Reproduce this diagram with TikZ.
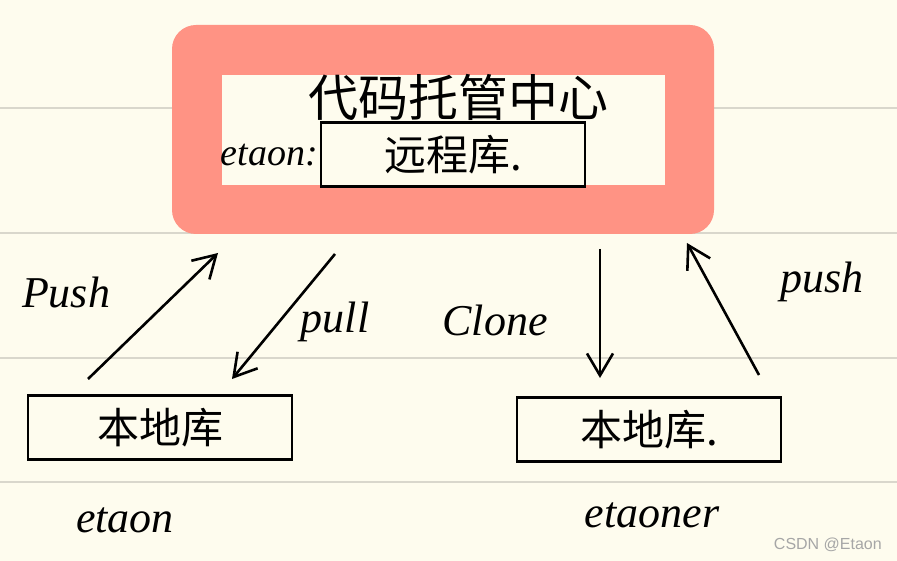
\documentclass[tikz,border=0pt]{standalone}
\usepackage{fontspec}
\setmainfont{Liberation Serif}
\newfontfamily\cjk{Noto Sans CJK SC}
\newfontfamily\wmfont{Liberation Sans}
\usetikzlibrary{arrows.meta}
\definecolor{paper}{HTML}{FEFCEE}
\definecolor{ruled}{HTML}{D9D7CC}
\definecolor{salmon}{HTML}{FF9384}
\tikzset{
  ink/.style={line width=2.6pt, draw=black},
  repobox/.style={draw=black, line width=2.8pt, minimum width=264pt, minimum height=64pt, inner sep=0pt, font=\cjk\fontsize{42}{42}\selectfont},
  hand/.style={font=\itshape\fontsize{44}{44}\selectfont, inner sep=0pt},
  handsm/.style={font=\itshape\fontsize{38}{38}\selectfont, inner sep=0pt},
  flow/.style={ink, -{Straight Barb[length=22pt,width=26pt,line width=2.6pt]}},
}
\begin{document}
\begin{tikzpicture}[x=1pt,y=-1pt]
\useasboundingbox (0,0) rectangle (897,561);
\fill[paper] (0,0) rectangle (897,561);
\foreach \yy in {108,233,358,482} \draw[ruled, line width=1.5pt] (0,\yy) -- (897,\yy);
% highlight
\fill[salmon, rounded corners=24pt] (172,25) rectangle (714,234);
\fill[paper] (222,75) rectangle (665,185);
\node[font=\cjk\fontsize{50}{50}\selectfont, inner sep=0pt] (center) at (458,97) {代码托管中心};
\node[repobox] (remote) at (453,154.5) {远程库.};
\node[handsm, anchor=east] (owner) at (318,155) {etaon:};
% local repos
\node[repobox] (localA) at (160,427.5) {本地库};
\node[repobox] (localB) at (649,429.5) {本地库.};
\node[hand] (nameA) at (125,520) {etaon};
\node[hand] (nameB) at (652,515) {etaoner};
% arrow ends
\coordinate (pushAs) at (88,379);
\coordinate (pushAe) at (218,253);
\coordinate (pullS) at (335,254);
\coordinate (pullE) at (232,379);
\coordinate (cloneS) at (600,249);
\coordinate (cloneE) at (600,378);
\coordinate (pushBs) at (759,375);
\coordinate (pushBe) at (687,243);
\draw[flow] (pushAs) -- (pushAe);
\draw[flow] (pullS) -- (pullE);
\draw[flow] (cloneS) -- (cloneE);
\draw[flow] (pushBs) -- (pushBe);
\node[hand] (lpushA) at (66,292) {Push};
\node[hand] (lpull) at (335,322) {pull};
\node[hand] (lclone) at (495,320) {Clone};
\node[hand] (lpushB) at (822,282) {push};
\node[font=\wmfont\fontsize{16}{16}\selectfont, text=gray!70, anchor=east, inner sep=0pt] (wm) at (882,545) {CSDN @Etaon};
\end{tikzpicture}
\end{document}
